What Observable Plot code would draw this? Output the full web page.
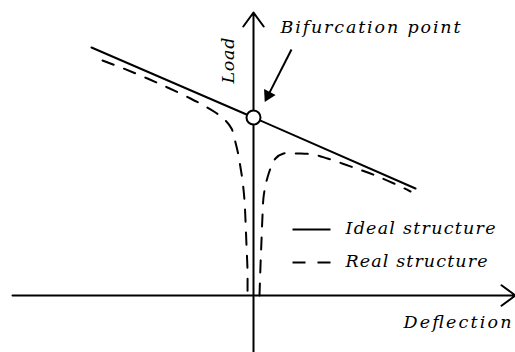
<!DOCTYPE html>
<html><head><meta charset="utf-8">
<script src="https://cdn.jsdelivr.net/npm/d3@7"></script>
<script src="https://cdn.jsdelivr.net/npm/@observablehq/plot@0.6"></script>
<style>html,body{margin:0;padding:0;background:#fff;overflow:hidden}</style>
</head><body><div id="chart"></div>
<script>
// Ideal structure (solid line through the bifurcation point)
const idealDeflection = [-16.2, 0, 16.2];
const idealLoad = [24.8, 17.8, 10.7];
// Real structure, left branch
const realLeftDeflection = [-15.1, -13.0, -10.6, -8.6, -6.3, -4.8, -3.8, -2.8, -2.2, -1.8, -1.5, -1.3, -1.1, -0.9, -0.8, -0.7, -0.6, -0.6];
const realLeftLoad       = [23.5, 22.7, 21.7, 20.8, 19.7, 18.9, 18.3, 17.5, 16.7, 15.3, 14.0, 12.8, 11.5, 9.5, 7.5, 5.0, 2.5, 0];
// Real structure, right branch
const realRightDeflection = [0.6, 0.7, 0.8, 0.9, 1.0, 1.2, 1.4, 1.7, 2.2, 3.0, 4.4, 6.0, 7.4, 10.0, 12.2, 14.7, 15.7];
const realRightLoad       = [0, 3.0, 5.5, 8.0, 9.8, 11.0, 11.8, 12.7, 13.7, 14.2, 14.2, 14.1, 13.7, 12.8, 12.0, 10.9, 10.4];
// Bifurcation point
const bifurcation = [{x: 0, y: 17.8}];
// Axes (start, end)
const axisX1 = [-24.1, 0];
const axisY1 = [0, -5.7];
const axisX2 = [26.2, 0];
const axisY2 = [0, 28.3];
// Annotation arrow (start -> tip)
const pointerStart = [3.8, 24.6];
const pointerTip = [1.1, 19.3];
// Labels
const labelText = ["Bifurcation point", "Deflection", "Ideal structure", "Real structure"];
const labelX = [2.7, 15.0, 9.2, 9.2];
const labelY = [26.3, -3.2, 6.2, 2.9];
const loadLabel = [{text: "Load", x: -2.0, y: 23.5}];
// Legend swatches
const legendX1 = [3.9, 3.9];
const legendX2 = [7.7, 7.7];
const legendY = [6.6, 3.3];
const legendKind = ["Ideal structure", "Real structure"];

const zip = (xs, ys) => xs.map((x, i) => ({x, y: ys[i]}));
const ideal = zip(idealDeflection, idealLoad);
const realLeft = zip(realLeftDeflection, realLeftLoad);
const realRight = zip(realRightDeflection, realRightLoad);
const axes = axisX1.map((x, i) => ({x1: x, y1: axisY1[i], x2: axisX2[i], y2: axisY2[i]}));
const labels = labelText.map((t, i) => ({text: t, x: labelX[i], y: labelY[i]}));
const legend = legendKind.map((k, i) => ({kind: k, x1: legendX1[i], x2: legendX2[i], y: legendY[i]}));

// arrow head derived from pointer data (equal units on both axes)
const dx = pointerTip[0] - pointerStart[0], dy = pointerTip[1] - pointerStart[1];
const len = Math.hypot(dx, dy);
const ux = dx / len, uy = dy / len;
const headLen = 1.2;
const pointerShaft = [{x1: pointerStart[0], y1: pointerStart[1], x2: pointerTip[0] - ux * headLen * 0.9, y2: pointerTip[1] - uy * headLen * 0.9}];
const pointerHead = [{x: pointerTip[0] - ux * headLen * 2 / 3, y: pointerTip[1] - uy * headLen * 2 / 3, angle: Math.atan2(dx, dy) * 180 / Math.PI}];

const font = "DejaVu Serif";
const fs = 17.5;
const sw = 2;

const chart = Plot.plot({
  width: 515,
  height: 352,
  margin: 0,
  x: {domain: [-25.3, 26.2], range: [0, 515], axis: null},
  y: {domain: [-5.7, 29.5], range: [352, 0], axis: null},
  style: {background: "white", overflow: "visible"},
  marks: [
    Plot.line(realLeft, {x: "x", y: "y", curve: "catmull-rom", stroke: "black", strokeWidth: sw, strokeDasharray: "12,11"}),
    Plot.line(realRight, {x: "x", y: "y", curve: "catmull-rom", stroke: "black", strokeWidth: sw, strokeDasharray: "12,11"}),
    Plot.line(ideal, {x: "x", y: "y", stroke: "black", strokeWidth: sw}),
    Plot.arrow(axes, {x1: "x1", y1: "y1", x2: "x2", y2: "y2", stroke: "black", strokeWidth: sw, headLength: 13, headAngle: 72}),
    Plot.dot(bifurcation, {x: "x", y: "y", r: 7, fill: "white", stroke: "black", strokeWidth: sw}),
    Plot.link(pointerShaft, {x1: "x1", y1: "y1", x2: "x2", y2: "y2", stroke: "black", strokeWidth: sw}),
    Plot.dot(pointerHead, {x: "x", y: "y", symbol: "triangle", r: 4.8, fill: "black", stroke: "none", rotate: "angle"}),
    Plot.link(legend.filter(d => d.kind === "Ideal structure"), {x1: "x1", x2: "x2", y1: "y", y2: "y", stroke: "black", strokeWidth: sw}),
    Plot.link(legend.filter(d => d.kind === "Real structure"), {x1: "x1", x2: "x2", y1: "y", y2: "y", stroke: "black", strokeWidth: sw, strokeDasharray: "13,12"}),
    Plot.text(labels, {x: "x", y: "y", text: "text", textAnchor: "start", lineAnchor: "bottom",
      fontFamily: font, fontStyle: "italic", fontSize: fs, fill: "black"}),
    Plot.text(loadLabel, {x: "x", y: "y", text: "text", rotate: -90, textAnchor: "middle", lineAnchor: "bottom",
      fontFamily: font, fontStyle: "italic", fontSize: fs, fill: "black"})
  ]
});

const textWidths = {"Bifurcation point": 180, "Ideal structure": 150, "Real structure": 142, "Deflection": 108, "Load": 46};
d3.select(chart).selectAll("text").each(function () {
  const w = textWidths[this.textContent];
  if (w) { this.setAttribute("textLength", w); this.setAttribute("lengthAdjust", "spacing"); }
});
document.getElementById("chart").appendChild(chart);
</script>
</body></html>
